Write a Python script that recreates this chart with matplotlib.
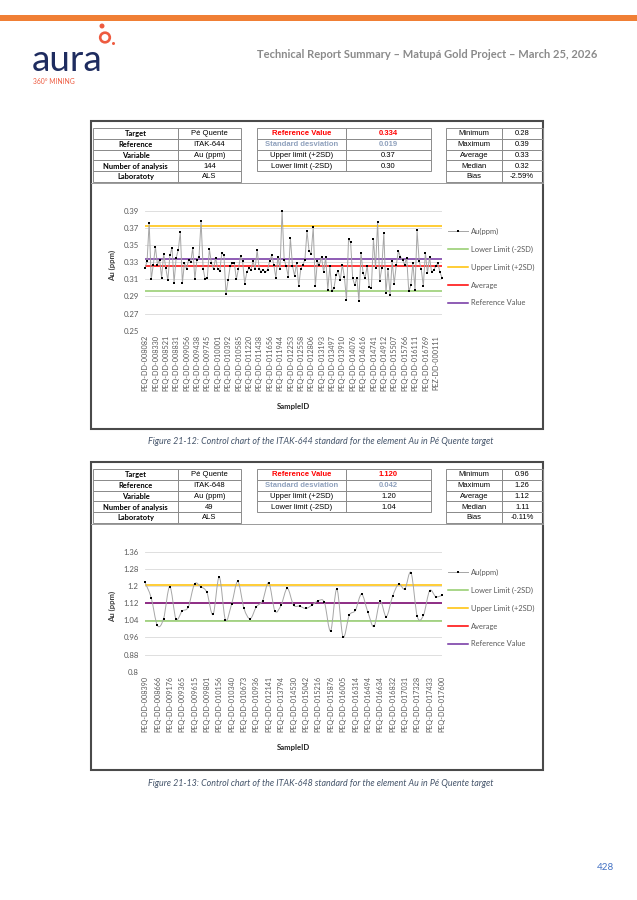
import matplotlib
matplotlib.use('Agg')
import matplotlib.pyplot as plt
from matplotlib.lines import Line2D
from matplotlib.patches import Rectangle, Circle, PathPatch
from matplotlib.path import Path

plt.rcParams['font.family'] = ['Lato', 'DejaVu Sans']

W, H = 637, 900

# ---------------- DATA ----------------
top_values = [
    0.323, 0.331, 0.376, 0.310, 0.327, 0.348, 0.327, 0.333, 0.312, 0.340,
    0.323, 0.309, 0.338, 0.347, 0.306, 0.335, 0.344, 0.365, 0.306, 0.329,
    0.322, 0.333, 0.330, 0.347, 0.310, 0.333, 0.336, 0.378, 0.322, 0.310,
    0.312, 0.345, 0.329, 0.322, 0.335, 0.322, 0.320, 0.341, 0.338, 0.293,
    0.309, 0.325, 0.329, 0.329, 0.310, 0.322, 0.337, 0.331, 0.305, 0.318,
    0.323, 0.321, 0.331, 0.322, 0.344, 0.322, 0.319, 0.321, 0.318, 0.321,
    0.331, 0.338, 0.327, 0.312, 0.336, 0.322, 0.390, 0.333, 0.325, 0.313,
    0.358, 0.326, 0.314, 0.329, 0.302, 0.322, 0.327, 0.333, 0.366, 0.343,
    0.340, 0.371, 0.302, 0.331, 0.327, 0.336, 0.318, 0.336, 0.298, 0.325,
    0.296, 0.300, 0.315, 0.320, 0.309, 0.327, 0.313, 0.286, 0.357, 0.353,
    0.311, 0.303, 0.312, 0.285, 0.341, 0.317, 0.312, 0.326, 0.301, 0.300,
    0.357, 0.323, 0.377, 0.308, 0.323, 0.364, 0.294, 0.322, 0.292, 0.331,
    0.305, 0.327, 0.343, 0.336, 0.333, 0.327, 0.335, 0.296, 0.303, 0.329,
    0.298, 0.367, 0.331, 0.322, 0.302, 0.341, 0.317, 0.336, 0.318, 0.321,
    0.325, 0.329, 0.318, 0.312,
]
top_labels = [
    "PEQ-DD-008082", "PEQ-DD-008330", "PEQ-DD-008521", "PEQ-DD-008831",
    "PEQ-DD-009056", "PEQ-DD-009438", "PEQ-DD-009745", "PEQ-DD-010001",
    "PEQ-DD-010392", "PEQ-DD-010585", "PEQ-DD-011220", "PEQ-DD-011438",
    "PEQ-DD-011656", "PEQ-DD-011944", "PEQ-DD-012253", "PEQ-DD-012558",
    "PEQ-DD-012806", "PEQ-DD-013193", "PEQ-DD-013497", "PEQ-DD-013910",
    "PEQ-DD-014076", "PEQ-DD-014616", "PEQ-DD-014741", "PEQ-DD-014912",
    "PEQ-DD-015507", "PEQ-DD-015766", "PEQ-DD-016111", "PEQ-DD-016769",
    "PEZ-DD-000111",
]
top_label_step = 5
top_yticks = [0.25, 0.27, 0.29, 0.31, 0.33, 0.35, 0.37, 0.39]
top_ytick_labels = ["0.25", "0.27", "0.29", "0.31", "0.33", "0.35", "0.37", "0.39"]
top_reference = 0.334
top_upper = 0.372
top_lower = 0.296
top_average = 0.3253

bottom_values = [
    1.217, 1.145, 1.016, 1.047, 1.197, 1.047, 1.083, 1.102, 1.209, 1.197,
    1.170, 1.067, 1.242, 1.042, 1.116, 1.221, 1.095, 1.047, 1.103, 1.131,
    1.215, 1.083, 1.111, 1.189, 1.111, 1.106, 1.095, 1.111, 1.131, 1.123,
    0.990, 1.186, 0.963, 1.063, 1.086, 1.162, 1.080, 1.011, 1.128, 1.057,
    1.151, 1.209, 1.186, 1.262, 1.058, 1.063, 1.178, 1.150, 1.156,
]
bottom_labels = [
    "PEQ-DD-008390", "PEQ-DD-008666", "PEQ-DD-009176", "PEQ-DD-009365",
    "PEQ-DD-009615", "PEQ-DD-009801", "PEQ-DD-010156", "PEQ-DD-010340",
    "PEQ-DD-010673", "PEQ-DD-010936", "PEQ-DD-012141", "PEQ-DD-013794",
    "PEQ-DD-014530", "PEQ-DD-015042", "PEQ-DD-015216", "PEQ-DD-015876",
    "PEQ-DD-016005", "PEQ-DD-016314", "PEQ-DD-016494", "PEQ-DD-016634",
    "PEQ-DD-016832", "PEQ-DD-017031", "PEQ-DD-017328", "PEQ-DD-017433",
    "PEQ-DD-017600",
]
bottom_label_step = 2
bottom_yticks = [0.8, 0.88, 0.96, 1.04, 1.12, 1.2, 1.28, 1.36]
bottom_ytick_labels = ["0.8", "0.88", "0.96", "1.04", "1.12", "1.2", "1.28", "1.36"]
bottom_reference = 1.120
bottom_upper = 1.204
bottom_lower = 1.036
bottom_average = 1.1188

legend_labels = ["Au(ppm)", "Lower Limit (-2SD)", "Upper Limit (+2SD)",
                 "Average", "Reference Value"]

top_info_labels = ["Target", "Reference", "Variable", "Number of analysis", "Laboratoty"]
top_info_values = ["Pé Quente", "ITAK-644", "Au (ppm)", "144", "ALS"]
top_ref_labels = ["Reference Value", "Standard desviation", "Upper limit (+2SD)", "Lower limit (-2SD)"]
top_ref_values = ["0.334", "0.019", "0.37", "0.30"]
top_stat_labels = ["Minimum", "Maximum", "Average", "Median", "Bias"]
top_stat_values = ["0.28", "0.39", "0.33", "0.32", "-2.59%"]

bottom_info_labels = ["Target", "Reference", "Variable", "Number of analysis", "Laboratoty"]
bottom_info_values = ["Pé Quente", "ITAK-648", "Au (ppm)", "49", "ALS"]
bottom_ref_labels = ["Reference Value", "Standard desviation", "Upper limit (+2SD)", "Lower limit (-2SD)"]
bottom_ref_values = ["1.120", "0.042", "1.20", "1.04"]
bottom_stat_labels = ["Minimum", "Maximum", "Average", "Median", "Bias"]
bottom_stat_values = ["0.96", "1.26", "1.12", "1.11", "-0.11%"]

header_title = "Technical Report Summary \u2013 Matupá Gold Project \u2013 March 25, 2026"
caption_top = "Figure 21-12: Control chart of the ITAK-644 standard for the element Au in Pé Quente target"
caption_bottom = "Figure 21-13: Control chart of the ITAK-648 standard for the element Au in Pé Quente target"
page_number = "428"

# ---------------- STYLE ----------------
C_GREEN = '#92cc6a'
C_YELLOW = '#ffc000'
C_RED = '#ff0000'
C_PURPLE = '#7030a0'
C_DATA = '#a6a6a6'
C_TICK = '#595959'
C_GRID = '#d9d9d9'
C_CELL = '#8c8c8c'
C_BOX = '#4a4a4a'
C_LOGO = '#ee5b40'
TABLE_FONT = ['Liberation Sans', 'DejaVu Sans']

fig = plt.figure(figsize=(W / 100, H / 100), dpi=100)
fig.patch.set_facecolor('white')

ov = fig.add_axes([0, 0, 1, 1])
ov.set_xlim(0, W)
ov.set_ylim(H, 0)
ov.axis('off')
ov.set_zorder(0)


def px_axes(x0, y0, x1, y1):
    return fig.add_axes([x0 / W, 1 - y1 / H, (x1 - x0) / W, (y1 - y0) / H])


# ---------------- HEADER ----------------
ov.add_patch(Rectangle((0, 15), W, 5.5, color='#f07f35', lw=0))
ov.text(32, 71, "aura", fontsize=26.5, color='#1e2c5f', fontweight='normal',
        ha='left', va='baseline', family=['Lato', 'DejaVu Sans'])
ov.add_patch(Circle((102, 26), 2.5, color=C_LOGO, lw=0))
ov.add_patch(Circle((105, 37.5), 4.8, fill=False, ec=C_LOGO, lw=1.9))
ov.add_patch(Circle((113.5, 43.5), 1.5, color=C_LOGO, lw=0))
ov.text(33, 81, "360° MINING", fontsize=4.9, color=C_LOGO, ha='left', va='center')
ov.text(597, 55, header_title, fontsize=8.0, color='#8a8a8a', fontweight='bold',
        ha='right', va='center')
ov.text(605, 868, page_number, fontsize=7, color='#4472c4', ha='center', va='center')


# ---------------- TABLES ----------------
def draw_block(x_edges, top, rowh, labels, values, label_styles, value_styles):
    for r, (lab, val) in enumerate(zip(labels, values)):
        y0 = top + r * rowh
        for c, (txt, st) in enumerate([(lab, label_styles[r]), (val, value_styles[r])]):
            xa, xb = x_edges[c], x_edges[c + 1]
            ov.add_patch(Rectangle((xa, y0), xb - xa, rowh, fill=False, ec=C_CELL, lw=0.7))
            ov.text((xa + xb) / 2, y0 + rowh / 2 + 0.3, txt, ha='center', va='center', **st)


def draw_panel(dy, info_l, info_v, ref_l, ref_v, stat_l, stat_v):
    ov.add_patch(Rectangle((91, 121 + dy), 452, 308, fill=False, ec=C_BOX, lw=1.5))
    ov.plot([91, 543], [183 + dy, 183 + dy], color='#9a9a9a', lw=0.7)
    top = 128.3 + dy
    rowh = 10.7
    bold_cal = dict(fontsize=5.4, fontweight='bold', color='black', family=['Lato', 'DejaVu Sans'])
    norm = dict(fontsize=5.5, color='black', family=TABLE_FONT)
    draw_block([93, 178.3, 240.7], top, rowh, info_l, info_v,
               [bold_cal] * 5, [norm] * 5)
    red = dict(fontsize=5.5, fontweight='bold', color=C_RED, family=TABLE_FONT)
    grey = dict(fontsize=5.5, fontweight='bold', color='#8fa1bd', family=TABLE_FONT)
    draw_block([256.7, 346, 430.7], top, rowh, ref_l, ref_v,
               [red, grey, norm, norm], [red, grey, norm, norm])
    draw_block([446, 501.7, 542.7], top, rowh, stat_l, stat_v,
               [norm] * 5, [norm] * 5)


draw_panel(0, top_info_labels, top_info_values, top_ref_labels, top_ref_values,
           top_stat_labels, top_stat_values)
draw_panel(341, bottom_info_labels, bottom_info_values, bottom_ref_labels, bottom_ref_values,
           bottom_stat_labels, bottom_stat_values)


# ---------------- CHARTS ----------------
def smooth_path(xs, ys):
    # Bezier curve through the measured points (Excel "smoothed line" look)
    verts = [(xs[0], ys[0])]
    codes = [Path.MOVETO]
    n = len(xs)
    for i in range(n - 1):
        x0, y0 = xs[max(i - 1, 0)], ys[max(i - 1, 0)]
        x1, y1 = xs[i], ys[i]
        x2, y2 = xs[i + 1], ys[i + 1]
        x3, y3 = xs[min(i + 2, n - 1)], ys[min(i + 2, n - 1)]
        c1 = (x1 + (x2 - x0) / 6.0, y1 + (y2 - y0) / 6.0)
        c2 = (x2 - (x3 - x1) / 6.0, y2 - (y3 - y1) / 6.0)
        verts += [c1, c2, (x2, y2)]
        codes += [Path.CURVE4] * 3
    return Path(verts, codes)


def draw_chart(dy, values, labels, step, yticks, ytlabels, lower, upper, avg, ref, smooth):
    ax = px_axes(145, 210.7 + dy, 442, 330.7 + dy)
    ax.set_facecolor('none')
    ax.set_zorder(2)
    n = len(values)
    x = list(range(n))
    for s in ax.spines.values():
        s.set_visible(False)
    ax.set_xlim(0, n - 1)
    ax.set_ylim(yticks[0], yticks[-1])
    ax.set_yticks(yticks)
    ax.set_yticklabels(ytlabels)
    ax.yaxis.grid(True, color=C_GRID, lw=0.6)
    ax.set_axisbelow(True)
    ax.set_xticks(x[::step])
    ax.set_xticklabels(labels, rotation=90, fontsize=5.2, color=C_TICK)
    ax.tick_params(axis='x', length=0, pad=3)
    ax.tick_params(axis='y', length=0, pad=4.5, labelsize=5.6, labelcolor=C_TICK)
    if smooth:
        ax.add_patch(PathPatch(smooth_path(x, values), fill=False, ec=C_DATA, lw=0.7,
                               zorder=3, clip_on=False))
        ax.plot(x, values, linestyle='none', marker='s', markersize=1.9,
                markerfacecolor='black', markeredgecolor='black', markeredgewidth=0,
                zorder=4, clip_on=False)
    else:
        ax.plot(x, values, color=C_DATA, lw=0.7, marker='s', markersize=1.9,
                markerfacecolor='black', markeredgecolor='black', markeredgewidth=0,
                zorder=3, clip_on=False)
    h_data = Line2D([], [], color=C_DATA, lw=0.7, marker='s', markersize=1.9,
                    markerfacecolor='black', markeredgecolor='black', markeredgewidth=0)
    h_low = ax.axhline(lower, color=C_GREEN, lw=1.1, zorder=2)
    h_up = ax.axhline(upper, color=C_YELLOW, lw=1.1, zorder=2)
    h_avg = ax.axhline(avg, color=C_RED, lw=1.1, zorder=2)
    h_ref = ax.axhline(ref, color=C_PURPLE, lw=1.1, zorder=2)
    ax.set_ylabel("Au (ppm)", fontsize=5.6, fontweight='bold', color='#404040')
    ax.yaxis.set_label_coords(-0.098, 0.54)
    ax.set_xlabel("SampleID", fontsize=5.6, fontweight='bold', color='#262626')
    ax.xaxis.set_label_coords(0.5, -(403 - 330.7) / 120.0)
    ax.legend([h_data, h_low, h_up, h_avg, h_ref], legend_labels,
              loc='upper left', bbox_to_anchor=(448 / W, 1 - (228.0 + dy) / H),
              bbox_transform=fig.transFigure, frameon=False, fontsize=5.4,
              labelcolor=C_TICK, handlelength=2.7, handletextpad=0.35,
              labelspacing=1.42, borderpad=0, borderaxespad=0, markerscale=1.0)
    return ax


draw_chart(0, top_values, top_labels, top_label_step, top_yticks, top_ytick_labels,
           top_lower, top_upper, top_average, top_reference, False)
draw_chart(341, bottom_values, bottom_labels, bottom_label_step, bottom_yticks,
           bottom_ytick_labels, bottom_lower, bottom_upper, bottom_average, bottom_reference, True)

# ---------------- CAPTIONS ----------------
ov.text(321, 442, caption_top, fontsize=6.4, style='italic', color='#44546a',
        ha='center', va='center')
ov.text(321, 783, caption_bottom, fontsize=6.4, style='italic', color='#44546a',
        ha='center', va='center')

fig.savefig('out.png', dpi=100, facecolor='white')
